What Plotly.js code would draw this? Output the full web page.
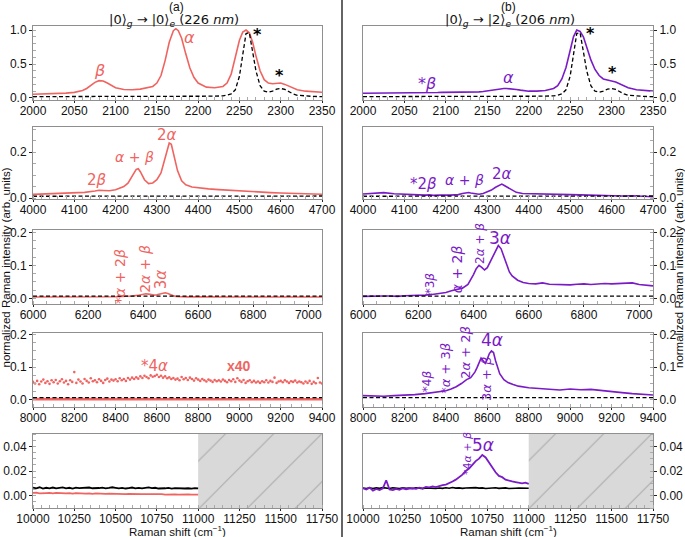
<!DOCTYPE html>
<html><head><meta charset="utf-8">
<script src="https://cdn.plot.ly/plotly-3.0.1.min.js"></script>
<style>html,body{margin:0;padding:0;background:#fff}#chart{width:685px;height:537px}</style>
</head><body><div id="chart"></div>
<script>
// ---------- DATA ----------
// Row 1: 2000-2350 cm-1
const x1 = [2000,2010,2020,2030,2040,2050,2060,2065,2070,2075,2080,2085,2090,2095,2100,2110,2120,2130,2140,2145,2150,2155,2160,2165,2170,2173,2176,2180,2185,2190,2195,2200,2210,2220,2230,2235,2240,2245,2250,2254,2258,2262,2266,2270,2275,2280,2285,2290,2295,2300,2305,2310,2315,2320,2330,2340,2350];
const red1 = [0.055,0.058,0.062,0.066,0.072,0.082,0.11,0.14,0.19,0.23,0.255,0.25,0.22,0.18,0.15,0.125,0.12,0.13,0.15,0.17,0.22,0.33,0.55,0.82,0.99,1.02,0.99,0.88,0.65,0.44,0.3,0.22,0.16,0.15,0.17,0.22,0.35,0.6,0.85,0.97,1.0,0.96,0.82,0.62,0.4,0.27,0.22,0.21,0.215,0.22,0.2,0.17,0.14,0.12,0.1,0.09,0.085];
const purple1 = [0.07,0.07,0.072,0.072,0.074,0.075,0.076,0.077,0.077,0.078,0.08,0.08,0.08,0.082,0.082,0.084,0.086,0.088,0.09,0.095,0.105,0.12,0.13,0.135,0.14,0.14,0.138,0.13,0.125,0.115,0.105,0.1,0.1,0.11,0.14,0.18,0.28,0.45,0.7,0.9,1.0,0.98,0.9,0.76,0.56,0.42,0.33,0.28,0.26,0.25,0.235,0.21,0.18,0.15,0.12,0.105,0.1];
const black1 = [0.02,0.02,0.02,0.02,0.02,0.02,0.02,0.02,0.02,0.02,0.02,0.02,0.02,0.02,0.02,0.02,0.02,0.02,0.02,0.02,0.021,0.021,0.021,0.021,0.022,0.022,0.022,0.022,0.022,0.022,0.023,0.023,0.024,0.026,0.032,0.04,0.06,0.12,0.32,0.65,0.95,0.96,0.7,0.4,0.18,0.1,0.085,0.1,0.13,0.14,0.125,0.09,0.06,0.04,0.026,0.022,0.02];

// Row 2: 4000-4700 cm-1
const x2 = [4000,4025,4050,4075,4100,4125,4150,4160,4170,4185,4200,4210,4220,4230,4240,4250,4255,4260,4270,4280,4290,4300,4310,4320,4325,4330,4335,4340,4350,4360,4370,4385,4400,4425,4450,4475,4500,4525,4550,4575,4600,4625,4650,4675,4700];
const red2 = [0.016,0.018,0.019,0.02,0.022,0.025,0.031,0.034,0.033,0.032,0.036,0.042,0.05,0.065,0.095,0.125,0.128,0.115,0.08,0.063,0.066,0.08,0.11,0.17,0.21,0.24,0.235,0.2,0.12,0.075,0.058,0.048,0.044,0.04,0.037,0.034,0.03,0.028,0.026,0.024,0.022,0.02,0.019,0.018,0.017];
const purple2 = [0.018,0.022,0.024,0.019,0.016,0.015,0.013,0.014,0.012,0.013,0.012,0.013,0.014,0.015,0.02,0.023,0.024,0.022,0.019,0.017,0.02,0.027,0.035,0.047,0.052,0.058,0.061,0.056,0.045,0.033,0.025,0.02,0.019,0.018,0.017,0.016,0.015,0.014,0.012,0.011,0.01,0.009,0.01,0.008,0.006];
const black2 = [0.008,0.008,0.008,0.008,0.008,0.008,0.008,0.008,0.008,0.008,0.008,0.008,0.008,0.008,0.0085,0.009,0.009,0.009,0.009,0.009,0.009,0.0095,0.01,0.01,0.011,0.011,0.011,0.011,0.01,0.01,0.01,0.01,0.01,0.01,0.0095,0.009,0.009,0.009,0.009,0.009,0.009,0.009,0.009,0.009,0.009];

// Row 3: 6000-7050 cm-1
const x3 = [6000,6025,6050,6075,6100,6125,6150,6175,6200,6225,6250,6275,6300,6320,6340,6360,6380,6390,6400,6410,6420,6430,6440,6450,6460,6470,6480,6490,6500,6510,6520,6530,6540,6560,6580,6600,6625,6650,6675,6700,6725,6750,6775,6800,6825,6850,6875,6900,6925,6950,6975,7000,7025,7050];
const red3 = [0.004,0.004,0.0035,0.004,0.004,0.0035,0.004,0.004,0.004,0.0045,0.004,0.0045,0.005,0.006,0.006,0.007,0.009,0.011,0.013,0.014,0.013,0.011,0.01,0.011,0.013,0.016,0.017,0.015,0.011,0.008,0.006,0.005,0.005,0.0045,0.004,0.004,0.004,0.0045,0.004,0.004,0.0035,0.004,0.004,0.004,0.0035,0.004,0.004,0.004,0.0035,0.004,0.004,0.004,0.004,0.004];
const purple3 = [0.006,0.007,0.006,0.007,0.007,0.006,0.008,0.008,0.009,0.01,0.012,0.014,0.018,0.023,0.028,0.031,0.042,0.055,0.072,0.09,0.1,0.094,0.086,0.093,0.11,0.13,0.148,0.16,0.15,0.125,0.098,0.08,0.068,0.055,0.048,0.045,0.044,0.047,0.043,0.042,0.043,0.041,0.043,0.044,0.042,0.044,0.045,0.044,0.045,0.046,0.047,0.042,0.04,0.038];
const black3 = [0.007,0.007,0.007,0.007,0.007,0.007,0.007,0.007,0.007,0.007,0.007,0.007,0.007,0.007,0.007,0.007,0.007,0.007,0.007,0.007,0.007,0.007,0.007,0.007,0.007,0.007,0.007,0.007,0.007,0.007,0.007,0.007,0.007,0.007,0.007,0.007,0.007,0.007,0.007,0.007,0.007,0.007,0.007,0.007,0.007,0.007,0.007,0.007,0.007,0.007,0.007,0.007,0.007,0.007];

// Row 4: 8000-9400 cm-1
const x4dots = [8000,8010,8020,8030,8040,8050,8060,8070,8080,8090,8100,8110,8120,8130,8140,8150,8160,8170,8180,8190,8200,8210,8220,8230,8240,8250,8260,8270,8280,8290,8300,8310,8320,8330,8340,8350,8360,8370,8380,8390,8400,8410,8420,8430,8440,8450,8460,8470,8480,8490,8500,8510,8520,8530,8540,8550,8560,8570,8580,8590,8600,8610,8620,8630,8640,8650,8660,8670,8680,8690,8700,8710,8720,8730,8740,8750,8760,8770,8780,8790,8800,8810,8820,8830,8840,8850,8860,8870,8880,8890,8900,8910,8920,8930,8940,8950,8960,8970,8980,8990,9000,9010,9020,9030,9040,9050,9060,9070,9080,9090,9100,9110,9120,9130,9140,9150,9160,9170,9180,9190,9200,9210,9220,9230,9240,9250,9260,9270,9280,9290,9300,9310,9320,9330,9340,9350,9360,9370,9380,9390,9400];
const red4x40 = [0.055,0.05,0.058,0.048,0.056,0.062,0.052,0.057,0.049,0.06,
0.054,0.061,0.05,0.057,0.063,0.053,0.058,0.048,0.06,0.055,
0.085,0.052,0.062,0.056,0.05,0.064,0.058,0.053,0.066,0.057,
0.06,0.054,0.063,0.058,0.052,0.061,0.065,0.056,0.062,0.059,
0.063,0.057,0.066,0.06,0.064,0.058,0.067,0.062,0.068,0.064,
0.069,0.065,0.072,0.067,0.074,0.07,0.066,0.075,0.071,0.073,
0.077,0.07,0.074,0.068,0.072,0.066,0.069,0.064,0.067,0.062,
0.065,0.06,0.07,0.063,0.067,0.061,0.068,0.064,0.059,0.066,
0.062,0.058,0.064,0.06,0.056,0.062,0.059,0.055,0.061,0.057,
0.06,0.056,0.062,0.058,0.054,0.061,0.057,0.063,0.055,0.066,
0.059,0.055,0.061,0.052,0.057,0.06,0.054,0.058,0.053,0.056,
0.052,0.057,0.054,0.06,0.053,0.058,0.055,0.068,0.052,0.056,
0.058,0.054,0.06,0.056,0.052,0.057,0.055,0.059,0.053,0.056,
0.054,0.05,0.056,0.052,0.058,0.049,0.055,0.051,0.067,0.053,
0.05];
const x4 = [8000,8100,8200,8300,8400,8500,8600,8700,8800,8900,9000,9100,9200,9300,9400];
const red4 = [0.0022,0.002,0.0021,0.0019,0.0022,0.0023,0.0024,0.0022,0.002,0.0021,0.0019,0.002,0.0018,0.0019,0.0018];
const black4 = [0.007,0.007,0.007,0.007,0.007,0.007,0.007,0.007,0.007,0.007,0.007,0.007,0.007,0.007,0.007];
const x4p = [8000,8050,8100,8150,8200,8250,8300,8350,8400,8425,8450,8475,8500,8520,8540,8550,8560,8570,8580,8590,8600,8610,8620,8630,8640,8650,8660,8680,8700,8725,8750,8800,8850,8900,8950,9000,9050,9100,9150,9200,9250,9300,9350,9400];
const purple4 = [0.013,0.012,0.011,0.013,0.014,0.016,0.019,0.023,0.028,0.033,0.04,0.05,0.062,0.068,0.085,0.098,0.115,0.128,0.12,0.112,0.125,0.142,0.15,0.145,0.12,0.098,0.08,0.062,0.053,0.047,0.042,0.037,0.034,0.032,0.03,0.033,0.031,0.032,0.028,0.026,0.022,0.019,0.017,0.015];
const black4p = [0.007,0.007,0.007,0.007,0.007,0.007,0.007,0.007,0.007,0.007,0.007,0.007,0.007,0.007,0.007,0.007,0.007,0.007,0.007,0.007,0.007,0.007,0.007,0.007,0.007,0.007,0.007,0.007,0.007,0.007,0.007,0.007,0.007,0.007,0.007,0.007,0.007,0.007,0.007,0.007,0.007,0.007,0.007,0.007];

// Row 5: 10000-11000 cm-1 (measured), beyond is unavailable
const x5 = [10000,10020,10040,10060,10080,10100,10120,10140,10160,10180,10200,10220,10240,10260,10280,10300,10320,10340,10360,10380,10400,10420,10440,10460,10480,10500,10520,10540,10560,10580,10600,10620,10640,10660,10680,10700,10720,10740,10760,10780,10800,10820,10840,10860,10880,10900,10920,10940,10960,10980,11000];
const black5a = [0.0065,0.006,0.0068,0.0058,0.0064,0.006,0.0066,0.0059,0.0063,0.0067,0.006,0.0064,0.0058,0.0065,0.0061,0.0063,0.0059,0.0066,0.006,0.0064,0.0062,0.0065,0.0059,0.0063,0.0068,0.0064,0.006,0.0063,0.0058,0.0062,0.0066,0.006,0.0063,0.0059,0.0065,0.0067,0.0061,0.0064,0.0058,0.0062,0.006,0.0063,0.0057,0.0061,0.0059,0.0062,0.0058,0.006,0.0057,0.0061,0.0059];
const red5 = [0.0022,0.0024,0.0019,0.0023,0.0021,0.0022,0.0018,0.0022,0.0020,0.0021,0.0019,0.0021,0.0017,0.002,0.0018,0.0019,0.0016,0.0019,0.0015,0.0018,0.0016,0.0017,0.0014,0.0017,0.0015,0.0016,0.0013,0.0015,0.0012,0.0015,0.0013,0.0014,0.0011,0.0013,0.0012,0.0013,0.001,0.0012,0.0011,0.0012,0.0009,0.0011,0.001,0.0011,0.0008,0.001,0.0009,0.001,0.0008,0.0009,0.0008];
const purple5 = [0.006,0.005,0.0065,0.004,0.0055,0.0045,0.006,0.0125,0.005,0.0045,0.0055,0.0048,0.006,0.0052,0.0058,0.006,0.0055,0.0065,0.006,0.007,0.0068,0.0075,0.007,0.008,0.0085,0.009,0.01,0.0115,0.013,0.015,0.017,0.02,0.022,0.025,0.028,0.03,0.033,0.031,0.027,0.022,0.019,0.016,0.015,0.013,0.012,0.0115,0.011,0.0105,0.01,0.0105,0.0095];
const black5b = [0.0062,0.0058,0.0064,0.0057,0.0063,0.0059,0.0065,0.006,0.0058,0.0064,0.0061,0.0057,0.0063,0.0059,0.0062,0.0058,0.0064,0.006,0.0057,0.0063,0.0061,0.0065,0.0058,0.0062,0.0059,0.0064,0.006,0.0066,0.0061,0.0063,0.0059,0.0062,0.0064,0.006,0.0065,0.0061,0.0063,0.0058,0.0062,0.006,0.0064,0.0059,0.0061,0.0063,0.0058,0.0062,0.006,0.0061,0.0059,0.0062,0.006];
const unavailable = [11000, 11750];

// Axis ranges / ticks
const xRanges = [[2000,2350],[4000,4700],[6000,7050],[8000,9400],[10000,11750]];
const xDticks = [50,100,200,200,250];
const xMinor = [10,20,50,50,50];
const yRanges = [[-0.03,1.06],[-0.004,0.31],[-0.017,0.207],[-0.022,0.205],[-0.01,0.05]];
const yDticks = [0.5,0.2,0.1,0.1,0.02];
const yMinor = [0.1,0.05,0.025,0.025,0.005];
const yFormats = ['.1f','.1f','.1f','.1f','.2f'];

// ---------- LAYOUT ----------
const RED = '#ef6461', PURPLE = '#7a1bc6', FRAME = '#8f8f8f';
const W = 685, H = 537, ML = 33, MR = 32, MT = 26, MB = 29;
const PW = W - ML - MR, PH = H - MT - MB;
const px2x = p => (p - ML) / PW;
const px2y = p => (H - MB - p) / PH;
const rowsPx = [[26,100],[127,199],[230,304],[333,407],[434,508]];
const colPx = [[33,322],[363,653]];

const layout = {width:W, height:H, margin:{l:ML,r:MR,t:MT,b:MB}, showlegend:false,
  paper_bgcolor:'#fff', plot_bgcolor:'#fff', annotations:[], shapes:[],
  font:{family:'Liberation Sans, Arial, sans-serif', size:12, color:'#111'}};

function axisBase(){
  return {showline:true, mirror:true, linecolor:FRAME, linewidth:1, showgrid:false, zeroline:false,
    ticks:'outside', ticklen:3, tickwidth:1, tickcolor:'#222',
    tickfont:{family:'Liberation Sans, Arial, sans-serif', size:12, color:'#111'}};
}
for (let r=0;r<5;r++){
  for (let c=0;c<2;c++){
    const i = 2*r + c + 1;
    const xa = axisBase(), ya = axisBase();
    xa.domain = [px2x(colPx[c][0]), px2x(colPx[c][1])];
    xa.range = xRanges[r]; xa.dtick = xDticks[r]; xa.tick0 = xRanges[r][0]; xa.tickformat = 'd';
    xa.ticklen = 2; xa.ticklabelstandoff = -2;
    xa.minor = {ticks:'inside', ticklen:3, dtick:xMinor[r], tick0:xRanges[r][0], tickcolor:'#aaa', tickwidth:1};
    xa.anchor = 'y' + (i===1?'':i);
    ya.domain = [px2y(rowsPx[r][1]), px2y(rowsPx[r][0])];
    ya.range = yRanges[r]; ya.dtick = yDticks[r]; ya.tick0 = 0; ya.tickformat = yFormats[r];
    ya.minor = {ticks:'inside', ticklen:3, dtick:yMinor[r], tick0:0, tickcolor:'#aaa', tickwidth:1};
    ya.anchor = 'x' + (i===1?'':i);
    if (c===1) ya.side = 'right';
    layout['xaxis'+(i===1?'':i)] = xa;
    layout['yaxis'+(i===1?'':i)] = ya;
  }
}

// ---------- TRACES ----------
const traces = [];
function ax(i){ return {xaxis:'x'+(i===1?'':i), yaxis:'y'+(i===1?'':i)}; }
function line(x,y,i,color,w,dash){ return Object.assign({type:'scatter',mode:'lines',x:x,y:y,
  line:{color:color,width:w,dash:dash||'solid'},hoverinfo:'skip'}, ax(i)); }
const DASH = '4px,2.5px';

// hatched unavailable region in row 5
[9,10].forEach(i=>{
  traces.push(Object.assign({type:'scatter',mode:'lines',
    x:[unavailable[0],unavailable[1],unavailable[1],unavailable[0],unavailable[0]],
    y:[yRanges[4][0],yRanges[4][0],yRanges[4][1],yRanges[4][1],yRanges[4][0]],
    fill:'toself', fillcolor:'#d9d9d9', line:{width:0,color:'rgba(0,0,0,0)'},
    fillpattern:{shape:'/', bgcolor:'#d9d9d9', fgcolor:'#a9a9a9', size:34, solidity:0.03},
    hoverinfo:'skip'}, ax(i)));
});

traces.push(line(x1,red1,1,RED,1.6));
traces.push(line(x1,black1,1,'#000',1.3,DASH));
traces.push(line(x1,purple1,2,PURPLE,1.6));
traces.push(line(x1,black1,2,'#000',1.3,DASH));

traces.push(line(x2,red2,3,RED,1.6));
traces.push(line(x2,black2,3,'#000',1.3,DASH));
traces.push(line(x2,purple2,4,PURPLE,1.6));
traces.push(line(x2,black2,4,'#000',1.3,DASH));

traces.push(line(x3,red3,5,RED,1.6));
traces.push(line(x3,black3,5,'#000',1.3,DASH));
traces.push(line(x3,purple3,6,PURPLE,1.6));
traces.push(line(x3,black3,6,'#000',1.3,DASH));

traces.push(Object.assign({type:'scatter',mode:'markers',x:x4dots,y:red4x40,
  marker:{color:RED,size:2.6},hoverinfo:'skip'},ax(7)));
traces.push(line(x4,red4,7,RED,2.6));
traces.push(line(x4,black4,7,'#000',1.3,DASH));
traces.push(line(x4p,purple4,8,PURPLE,1.6));
traces.push(line(x4p,black4p,8,'#000',1.3,DASH));

traces.push(line(x5,black5a,9,'#000',1.8));
traces.push(line(x5,red5,9,RED,1.8));
traces.push(line(x5,black5b,10,'#000',1.6));
traces.push(line(x5,purple5,10,PURPLE,1.8));

// ---------- ANNOTATIONS ----------
const GF = 'DejaVu Sans, sans-serif';
function ann(i,x,y,text,color,size,angle,extra){
  const a = Object.assign({xref:'x'+(i===1?'':i), yref:'y'+(i===1?'':i), x:x, y:y, text:text,
    showarrow:false, xanchor:'center', yanchor:'middle', textangle:angle||0,
    font:{family:GF,size:size,color:color}}, extra||{});
  layout.annotations.push(a);
}
// row 1
ann(1,2081,0.40,'<i>β</i>',RED,16);
ann(1,2190,0.89,'<i>α</i>',RED,16);
ann(1,2272,0.93,'<b>*</b>','#000',16);
ann(1,2299,0.33,'<b>*</b>','#000',16);
ann(2,2077,0.22,'*<i>β</i>',PURPLE,16);
ann(2,2175,0.30,'<i>α</i>',PURPLE,16);
ann(2,2274,0.95,'<b>*</b>','#000',16);
ann(2,2301,0.37,'<b>*</b>','#000',16);
// row 2
ann(3,4154,0.079,'2<i>β</i>',RED,15);
ann(3,4247,0.18,'<i>α</i> + <i>β</i>',RED,14);
ann(3,4324,0.275,'2<i>α</i>',RED,15);
ann(4,4145,0.062,'*2<i>β</i>',PURPLE,15);
ann(4,4246,0.077,'<i>α</i> + <i>β</i>',PURPLE,14);
ann(4,4335,0.105,'2<i>α</i>',PURPLE,15);
// row 3
ann(5,6316,0.068,'*<i>α</i> + 2<i>β</i>',RED,14,-90);
ann(5,6404,0.09,'2<i>α</i> + <i>β</i>',RED,14,-90);
ann(5,6465,0.058,'3<i>α</i>',RED,15,-90);
ann(6,6242,0.045,'*3<i>β</i>',PURPLE,12,-90);
ann(6,6339,0.087,'<i>α</i> + 2<i>β</i>',PURPLE,14,-90);
ann(6,6424,0.165,'2<i>α</i> + <i>β</i>',PURPLE,12,-90);
ann(6,6495,0.183,'3<i>α</i>',PURPLE,17);
// row 4
ann(7,8590,0.105,'*4<i>α</i>',RED,15);
ann(7,9000,0.103,'<b>x40</b>',RED,14,0,{font:{family:'Liberation Sans, Arial, sans-serif',size:14,color:RED}});
ann(8,8310,0.058,'*4<i>β</i>',PURPLE,12,-90);
ann(8,8400,0.098,'*<i>α</i> + 3<i>β</i>',PURPLE,13,-90);
ann(8,8497,0.147,'2<i>α</i> + 2<i>β</i>',PURPLE,13,-90);
ann(8,8597,0.063,'3<i>α</i> + <i>β</i>',PURPLE,13,-90);
ann(8,8621,0.184,'4<i>α</i>',PURPLE,17);
// row 5
ann(10,10629,0.034,'*4<i>α</i> + <i>β</i>',PURPLE,11,-90);
ann(10,10722,0.0414,'5<i>α</i>',PURPLE,17);

// paper texts
function pann(xp,yp,text,size,angle,family){
  layout.annotations.push({xref:'paper',yref:'paper',x:px2x(xp),y:px2y(yp),text:text,showarrow:false,
    xanchor:'center',yanchor:'middle',textangle:angle||0,
    font:{family:family||'Liberation Sans, Arial, sans-serif',size:size,color:'#111'}});
}
pann(176,7,'(a)',12);
pann(508,7,'(b)',12);
pann(174,20,'|0⟩<sub><i>g</i></sub> → |0⟩<sub><i>e</i></sub> (226 <i>nm</i>)',13,0,GF);
pann(510,20,'|0⟩<sub><i>g</i></sub> → |2⟩<sub><i>e</i></sub> (206 <i>nm</i>)',13,0,GF);
pann(177,531,'Raman shift (cm<sup>−1</sup>)',11.5);
pann(508,531,'Raman shift (cm<sup>−1</sup>)',11.5);
pann(5.5,268,'normalized Raman intensity (arb. units)',11.5,-90);
pann(679,268,'normalized Raman intensity (arb. units)',11.5,-90);

layout.shapes.push({type:'line',xref:'paper',yref:'paper',x0:px2x(342),x1:px2x(342),y0:px2y(537),y1:px2y(0),
  line:{color:'#111',width:1.3}});

Plotly.newPlot('chart', traces, layout, {displayModeBar:false, staticPlot:true});
</script></body></html>
